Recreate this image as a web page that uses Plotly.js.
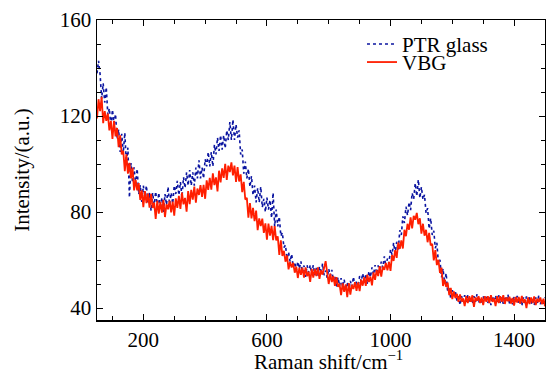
<!DOCTYPE html>
<html>
<head>
<meta charset="utf-8">
<script src="https://cdn.plot.ly/plotly-3.0.1.min.js"></script>
<style>html,body{margin:0;padding:0;background:#fff;}#chart{width:546px;height:372px;}</style>
</head>
<body>
<div id="chart"></div>
<script>
// Raman shift sampling (cm^-1): first value and spacing of the samples
const shiftStart = 50;
const shiftStep = 5;

// PTR glass intensity (a.u.), one value per sample from 50 to 1500 cm^-1
const ptrGlass = [
137.8,143,137.4,127.2,133.6,125.6,132,120.4,123.2,115.2,
122.6,116.8,120.8,110.4,114.4,105,112.6,104.6,113,100.6,
106.8,86,100.4,92.2,98.6,91.6,98,87.4,91.2,84.2,
91,86.5,91,83.5,88,80.5,88,83,88.5,82,
88,81,86,80,87.5,83,90.5,83,88,83.5,
91,87.5,93,87,92.5,86,94.5,90,96.5,91,
97.5,91,96.5,91,98.5,94,101.5,94,98.5,94,
102,99,105,99,105,99,108,104,111,105.5,
112,106,112,106.5,114,110,117.5,110,118.5,110,
116.5,111,114,104,106,96,101,94,98,90.5,
95,87,91,84,90,84,90.5,82,85.5,80,
86,81,85,77.5,88,74,81,74,78,70,
71.4,65.2,66.2,60.6,63.3,59.3,62.5,57.2,59.1,55.6,
59.3,56.4,59.4,54.7,57.7,53,57.8,54.8,57.9,54.3,
57.9,53.7,56.7,53.1,57.3,54.3,58.5,53.7,55.6,52.6,
56.3,53.4,55.9,51.2,53.2,48.5,52.8,49.3,52.4,48.8,
51.9,47.7,50.7,47.1,51.3,48.8,53,48.7,51.1,48.6,
53.3,50.9,54.4,50.7,54.2,50,55.3,52.8,56.9,53.8,
57.9,54.2,57.7,54.6,59.3,56.8,61.5,57.2,60.6,58.6,
64.4,62.2,67.2,62.6,67.6,64,72.4,70.4,78.2,75.4,
82.2,78.6,84.1,80.8,87.9,85.4,92,86.6,93.5,85.8,
90.4,85.2,87.2,79.6,81.6,73,77.4,70.4,72.2,64.9,
67.2,58.6,60.1,52.8,56.4,50.4,54.5,46.6,48.8,43.8,
47.4,45,46.8,43.1,44.9,41.2,44.9,42.6,45.3,42.6,
45.3,42.1,44.4,41.7,44.9,42.6,45.8,42.1,44,41.7,
44.9,43,45.3,42.1,44.4,41.2,44.9,42.6,45.3,42.6,
45.3,42.1,44.4,41.7,44.9,42.6,45.6,41.9,43.8,41.5,
44.7,42.7,45,41.8,44.1,40.9,44.4,42.1,44.8,42.1,
44.8,41.6,43.9,41.2,44.4,42.1,45.3,41.6,43.5,41.2,
44.4
];

// VBG intensity (a.u.), one value per sample from 50 to 1500 cm^-1
const vbg = [
119,127,122,128,117,122,118,121,114,118,
110.5,118,111.5,115,107,112,104,105.5,97,104,
96,100.5,94,98.5,89,93.5,89,92,85,89,
82,88.7,83.7,87.7,81.8,87.6,81.7,83.9,77.1,84.7,
79.3,84.2,79.7,85.1,77.9,83.3,81.1,84.7,79.8,84.3,
78.5,85.7,81.7,86.7,81.3,88.1,83.2,85.9,80.1,88.7,
83.3,89.2,85.2,90.6,83.9,89.8,87.1,91.2,86.3,91.3,
85.5,93.2,89.2,94.2,89.3,96.1,91.2,94.4,88.6,97.2,
92.3,98.2,94.2,100.1,93.4,99.3,96.6,100.7,95.3,99.3,
92.5,98.7,92.7,95.7,88.3,92.6,85.2,85.9,77.6,83.7,
77.3,81.7,76.2,80.6,72.4,77.3,74.1,77.2,71.3,75.3,
68.5,75.2,70.2,74.2,68.3,74.1,68.2,69.9,62.1,68.2,
61.7,63.8,59.3,61.9,56.1,59.2,56.9,58.8,54.7,57.2,
52.5,56.8,53.8,56.8,52.7,56.9,53.3,55.1,50.9,56.3,
52.7,56.3,53.3,56.9,52.1,55.7,53.9,56.3,59.5,54.7,
50,54.3,50.8,53.3,49.2,52.9,48.8,50.1,45.4,50.3,
46.7,49.8,44.5,50.4,45.6,49.7,47.9,50.8,47.2,50.7,
47,51.8,49.3,52.8,49.2,53.9,50.8,53.1,49.4,54.8,
51.7,55.8,53.3,57.4,53.1,57.2,55.9,58.8,55.7,59.2,
55.5,62.1,59.6,64.1,60.9,67.3,64.6,68.2,64.8,72.6,
69.9,75.1,72.6,77.8,73.2,78.4,76.8,79.6,74.9,77.4,
71,75.1,70.1,72.6,67.4,71.3,66.1,66.7,59.8,64.1,
57.9,60.1,54.6,56.8,49.2,51.9,48.8,50.6,45.4,48.4,
43.7,46.9,44.1,45.9,42.6,45.6,42.7,44,40.8,44.9,
42.1,44.9,42.6,45.3,40.5,44.4,43,44.9,42.1,44.4,
41.2,44.9,42.6,44.9,42.1,45.3,42.6,44,40.8,44.9,
42.1,44.9,42.6,45.3,41.7,44.4,42.8,44.7,41.9,44.2,
41,44.6,42.3,44.6,41.8,45,42.2,43.6,40,44.4,
41.6,44.4,42.1,44.8,41.2,43.9,42.5,44.4,41.6,43.9,
40.7
];

const seriesNames = ['PTR glass', 'VBG'];
const xTitle = 'Raman shift/cm<sup>−1</sup>';
const yTitle = 'Intensity/(a.u.)';

const FONT = 'Times New Roman, Liberation Serif, Tinos, serif';

const traces = [
  {
    type: 'scatter', mode: 'lines', name: seriesNames[0],
    x0: shiftStart, dx: shiftStep, y: ptrGlass,
    line: {color: '#0a14a0', width: 1.6, dash: 'dot'},
    legend: 'legend', hoverinfo: 'skip'
  },
  {
    type: 'scatter', mode: 'lines', name: seriesNames[1],
    x0: shiftStart, dx: shiftStep, y: vbg,
    line: {color: '#ff1e00', width: 1.8},
    legend: 'legend2', hoverinfo: 'skip'
  }
];

const axisCommon = {
  ticks: 'inside', ticklen: 6, tickwidth: 1, tickcolor: '#000',
  showline: true, linecolor: '#000', linewidth: 1.5, mirror: 'ticks',
  showgrid: false, zeroline: false,
  tickfont: {family: FONT, size: 21, color: '#000'}
};

const layout = {
  width: 546, height: 372,
  margin: {l: 97, r: 1, t: 20, b: 52, pad: 0},
  paper_bgcolor: '#fff', plot_bgcolor: '#fff',
  font: {family: FONT, size: 21, color: '#000'},
  xaxis: Object.assign({}, axisCommon, {
    range: [50, 1500], tick0: 200, dtick: 400,
    minor: {dtick: 100, ticks: 'inside', ticklen: 4, tickwidth: 1, tickcolor: '#000', showgrid: false}
  }),
  yaxis: Object.assign({}, axisCommon, {
    range: [35, 160], tick0: 40, dtick: 40,
    minor: {dtick: 10, ticks: 'inside', ticklen: 4, tickwidth: 1, tickcolor: '#000', showgrid: false},
    title: {text: yTitle, font: {family: FONT, size: 21, color: '#000'}, standoff: 24}
  }),
  annotations: [{
    text: xTitle, xref: 'paper', yref: 'paper', x: 0.516, y: -0.136,
    xanchor: 'center', yanchor: 'middle', showarrow: false,
    font: {family: FONT, size: 21, color: '#000'}
  }],
  legend: {x: 0.5915, y: 0.987, xanchor: 'left', yanchor: 'top', bgcolor: 'rgba(0,0,0,0)', borderwidth: 0, font: {family: FONT, size: 21, color: '#000'}},
  legend2: {x: 0.5915, y: 0.927, xanchor: 'left', yanchor: 'top', bgcolor: 'rgba(0,0,0,0)', borderwidth: 0, font: {family: FONT, size: 21, color: '#000'}},
  showlegend: true
};

Plotly.newPlot('chart', traces, layout, {staticPlot: true, displayModeBar: false});
</script>
</body>
</html>
